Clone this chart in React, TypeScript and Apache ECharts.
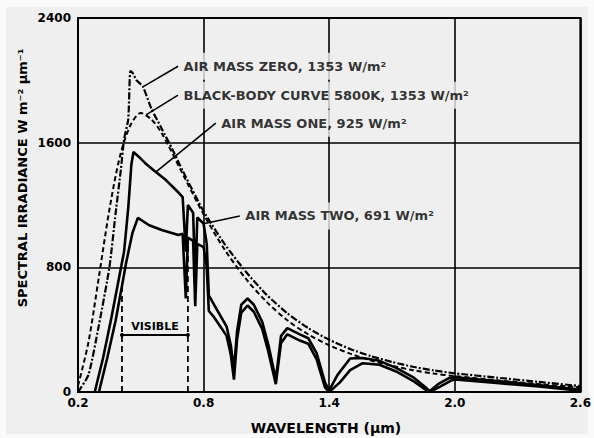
import React, { useEffect, useRef } from "react";
import * as echarts from "echarts";

// ---- data (wavelength µm, spectral irradiance W m^-2 µm^-1) ----
const airMassZero: [number, number][] = [
  [0.2, 0], [0.25, 110], [0.3, 430], [0.35, 800], [0.38, 1150], [0.405, 1430],
  [0.42, 1620], [0.44, 1750], [0.45, 2060], [0.46, 2050], [0.48, 2000], [0.51, 1960],
  [0.55, 1820], [0.6, 1690], [0.65, 1560], [0.7, 1420], [0.8, 1160], [0.9, 950],
  [1.0, 775], [1.1, 625], [1.2, 505], [1.3, 410], [1.4, 335], [1.5, 276],
  [1.6, 230], [1.7, 193], [1.8, 162], [1.9, 138], [2.0, 120], [2.2, 92],
  [2.4, 65], [2.6, 38],
];
const blackBody: [number, number][] = [
  [0.2, 40], [0.25, 320], [0.3, 740], [0.35, 1170], [0.4, 1510], [0.45, 1710],
  [0.5, 1790], [0.55, 1750], [0.6, 1660], [0.7, 1400], [0.8, 1140], [0.9, 915],
  [1.0, 730], [1.1, 580], [1.2, 460], [1.3, 370], [1.4, 300], [1.5, 246],
  [1.6, 202], [1.7, 168], [1.8, 140], [1.9, 118], [2.0, 102], [2.2, 75],
  [2.4, 51], [2.6, 30],
];
const airMassOne: [number, number][] = [
  [0.28, 0], [0.32, 220], [0.36, 480], [0.4, 760], [0.42, 900], [0.44, 1180],
  [0.455, 1460], [0.465, 1540], [0.49, 1510], [0.52, 1470], [0.56, 1425], [0.62, 1360],
  [0.68, 1280], [0.7, 1250], [0.715, 900], [0.725, 1200], [0.75, 1150], [0.76, 700],
  [0.77, 1120], [0.8, 1080], [0.815, 950], [0.825, 620], [0.85, 560], [0.88, 490],
  [0.91, 420], [0.93, 300], [0.945, 140], [0.96, 390], [0.98, 560], [1.01, 600],
  [1.04, 560], [1.08, 450], [1.11, 300], [1.145, 80], [1.17, 360], [1.2, 410],
  [1.26, 370], [1.3, 345], [1.34, 250], [1.38, 60], [1.4, 10], [1.44, 110],
  [1.5, 215], [1.56, 218], [1.64, 200], [1.72, 155], [1.8, 96], [1.86, 30],
  [1.88, 5], [1.92, 50], [1.97, 88], [2.0, 95], [2.2, 70], [2.4, 45], [2.6, 15],
];
const airMassTwo: [number, number][] = [
  [0.3, 0], [0.34, 220], [0.38, 460], [0.41, 680], [0.43, 830], [0.46, 1020],
  [0.486, 1117], [0.54, 1070], [0.6, 1040], [0.68, 1008], [0.7, 1015], [0.715, 600],
  [0.725, 990], [0.75, 970], [0.76, 550], [0.77, 950], [0.8, 930], [0.815, 800],
  [0.825, 520], [0.85, 480], [0.88, 420], [0.91, 360], [0.93, 240], [0.945, 80],
  [0.96, 340], [0.98, 510], [1.01, 555], [1.04, 515], [1.08, 405], [1.11, 255],
  [1.145, 50], [1.17, 315], [1.2, 370], [1.26, 330], [1.3, 310], [1.34, 210],
  [1.38, 30], [1.4, 0], [1.45, 60], [1.5, 140], [1.56, 185], [1.64, 175],
  [1.72, 132], [1.8, 72], [1.86, 15], [1.88, 0], [1.93, 35], [1.98, 72],
  [2.0, 80], [2.2, 58], [2.4, 35], [2.6, 8],
];
const xTicks = [0.2, 0.8, 1.4, 2.0, 2.6];
const yTicks = [0, 800, 1600, 2400];
const visibleBounds = [0.41, 0.725];
const visibleTops = [700, 950];
const visibleArrowLevel = 366;

// annotations: label anchor and pointer target (data coords)
const annotationTexts = [
  "AIR MASS ZERO, 1353 W/m²",
  "BLACK-BODY CURVE 5800K, 1353 W/m²",
  "AIR MASS ONE, 925 W/m²",
  "AIR MASS TWO, 691 W/m²",
];
const annotationAnchors: [number, number][] = [
  [0.69, 2090], [0.69, 1905], [0.87, 1725], [0.985, 1130],
];
const annotationTargets: [number, number][] = [
  [0.51, 1958], [0.525, 1778], [0.57, 1410], [0.8, 1080],
];

const INK = "#000";
const BG = "#efefef";
const FONT = "DejaVu Sans";

export default function App() {
  const ref = useRef<HTMLDivElement>(null);
  useEffect(() => {
    document.body.style.margin = "0";
    if (!ref.current) return;
    const chart = echarts.init(ref.current, undefined, { renderer: "svg" });

    const pointerSeries = annotationAnchors.map((a, i) => ({
      type: "line",
      data: [[a[0] - 0.012, a[1]], annotationTargets[i]],
      symbol: ["none", "circle"],
      symbolSize: [0, 4],
      showSymbol: true,
      itemStyle: { color: INK },
      lineStyle: { color: INK, width: 1.6 },
      z: 4,
      silent: true,
    }));

    chart.setOption({
      animation: false,
      backgroundColor: "transparent",
      grid: {
        left: 78, right: 13, top: 18, bottom: 46,
        show: true, borderColor: INK, borderWidth: 2, backgroundColor: "transparent",
      },
      xAxis: {
        type: "value", min: 0.2, max: 2.6, interval: 0.6,
        axisLine: { show: false }, axisTick: { show: false },
        splitLine: { show: true, lineStyle: { color: INK, width: 1.6 } },
        axisLabel: {
          color: INK, fontFamily: FONT, fontWeight: "bold", fontSize: 12, margin: 5,
          formatter: (v: number) => {
            const t = xTicks.find((x) => Math.abs(x - v) < 1e-6);
            return t === undefined ? "" : t.toFixed(1);
          },
        },
      },
      yAxis: {
        type: "value", min: 0, max: 2400, interval: 800,
        axisLine: { show: false }, axisTick: { show: false },
        splitLine: { show: true, lineStyle: { color: INK, width: 1.6 } },
        axisLabel: {
          color: INK, fontFamily: FONT, fontWeight: "bold", fontSize: 12, margin: 7,
          formatter: (v: number) => (yTicks.includes(v) ? String(v) : ""),
        },
      },
      graphic: [
        {
          type: "text", x: 22, y: 178, rotation: Math.PI / 2,
          style: {
            text: "SPECTRAL IRRADIANCE W m⁻² µm⁻¹",
            fill: INK, font: `bold 13px "${FONT}"`, align: "center", verticalAlign: "middle",
          },
        },
        {
          type: "text", x: 326, y: 428,
          style: {
            text: "WAVELENGTH (µm)", fill: INK, font: `bold 14px "${FONT}"`,
            align: "center", verticalAlign: "middle",
          },
        },
      ],
      series: [
        {
          name: "Black body", type: "line", data: blackBody, showSymbol: false, smooth: 0.3,
          lineStyle: { color: INK, width: 2, type: [5, 3] }, z: 3,
        },
        {
          name: "Air mass zero", type: "line", data: airMassZero, showSymbol: false, smooth: 0.2,
          lineStyle: { color: INK, width: 2.2, type: [7, 2, 2, 2] }, z: 3,
        },
        {
          name: "Air mass one", type: "line", data: airMassOne, showSymbol: false,
          lineStyle: { color: INK, width: 2.6 }, z: 3,
        },
        {
          name: "Air mass two", type: "line", data: airMassTwo, showSymbol: false,
          lineStyle: { color: INK, width: 2.6 }, z: 3,
        },
        ...visibleBounds.map((b, i) => ({
          type: "line", data: [[b, 0], [b, visibleTops[i]]], showSymbol: false,
          lineStyle: { color: INK, width: 1.8, type: [6, 4] }, z: 2, silent: true,
        })),
        {
          type: "line",
          data: [[visibleBounds[0], visibleArrowLevel], [visibleBounds[1], visibleArrowLevel]],
          symbol: "circle", symbolSize: 4, showSymbol: true,
          itemStyle: { color: INK },
          lineStyle: { color: INK, width: 2 }, z: 4, silent: true,
          markPoint: {
            symbol: "circle", symbolSize: 0,
            data: [{ coord: [(visibleBounds[0] + visibleBounds[1]) / 2, visibleArrowLevel] }],
            label: {
              show: true, formatter: "VISIBLE", position: "top", distance: 3,
              color: INK, fontFamily: FONT, fontWeight: "bold", fontSize: 11,
            },
          },
        },
        ...pointerSeries,
        {
          type: "scatter", symbolSize: 0, z: 5, silent: true,
          data: annotationAnchors.map((a, i) => ({ name: annotationTexts[i], value: a })),
          label: {
            show: true, position: "right", distance: 0, formatter: "{b}",
            color: INK, fontFamily: FONT, fontWeight: "bold", fontSize: 13,
            backgroundColor: BG, padding: [7, 3],
          },
        },
      ],
    });
    return () => chart.dispose();
  }, []);

  return (
    <div style={{ position: "relative", width: 594, height: 438, background: "#fafafa" }}>
      <div style={{ position: "absolute", left: 6, top: 7, right: 6, bottom: 4, background: BG }} />
      <div ref={ref} style={{ position: "absolute", left: 0, top: 0, width: 594, height: 438 }} />
    </div>
  );
}
